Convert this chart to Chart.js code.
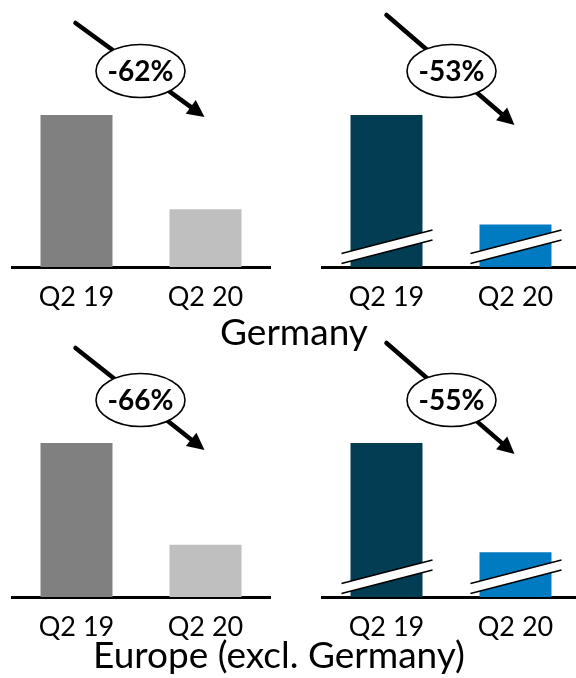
<!DOCTYPE html>
<html>
<head>
<meta charset="utf-8">
<script src="https://cdn.jsdelivr.net/npm/chart.js@4/dist/chart.umd.min.js"></script>
<style>
  html, body { margin:0; padding:0; background:#fff; width:576px; height:678px; overflow:hidden; position:relative; }
  .cw { position:absolute; }
  .title { position:absolute; font-family: Lato, "Open Sans", sans-serif; font-size:37px; line-height:44.4px; color:#000; white-space:nowrap; transform:translateX(-50%); }
</style>
</head>
<body>
<div class="cw" style="left:0;top:0;width:288px;height:330px"><canvas id="c1"></canvas></div>
<div class="cw" style="left:300px;top:0;width:290px;height:330px"><canvas id="c2"></canvas></div>
<div class="cw" style="left:0;top:330px;width:288px;height:330px"><canvas id="c3"></canvas></div>
<div class="cw" style="left:300px;top:330px;width:290px;height:330px"><canvas id="c4"></canvas></div>
<div class="title" id="t1" style="left:294px;top:309px"></div>
<div class="title" id="t2" style="left:279px;top:632px"></div>
<script>
// ---- data ----
const categories = ['Q2 19', 'Q2 20'];
// bar heights (Q2 19 = 100); right-hand panels use a broken axis
const germanyLeft  = [100, 38];
const germanyRight = [100, 28];
const europeLeft   = [100, 34];
const europeRight  = [100, 29];
const germanyChanges = ['-62%', '-53%'];
const europeChanges  = ['-66%', '-55%'];
const regionTitles = ['Germany', 'Europe (excl. Germany)'];

document.getElementById('t1').textContent = regionTitles[0];
document.getElementById('t2').textContent = regionTitles[1];

const FONT = 'Lato, "Open Sans", sans-serif';

const annot = {
  id: 'annot',
  afterDatasetsDraw(chart, args, o) {
    if (!o.broken) return;
    const ctx = chart.ctx;
    const meta = chart.getDatasetMeta(0);
    meta.data.forEach(b => {
      const base = b.base;
      const x0 = b.x - 45, x1 = b.x + 46;
      ctx.save();
      ctx.beginPath();
      ctx.moveTo(x0, base - 3.5);
      ctx.lineTo(x1, base - 27);
      ctx.lineTo(x1, base - 37);
      ctx.lineTo(x0, base - 13.5);
      ctx.closePath();
      ctx.fillStyle = '#fff';
      ctx.fill();
      ctx.strokeStyle = '#000';
      ctx.lineWidth = 1.6;
      ctx.beginPath();
      ctx.moveTo(x0, base - 3.5); ctx.lineTo(x1, base - 27);
      ctx.moveTo(x0, base - 13.5); ctx.lineTo(x1, base - 37);
      ctx.stroke();
      ctx.restore();
    });
  },
  afterDraw(chart, args, o) {
    const ctx = chart.ctx;
    const meta = chart.getDatasetMeta(0);
    const b0 = meta.data[0], b1 = meta.data[1];
    const top = chart.chartArea.top;
    const sx = b0.x + o.sdx, sy = top + o.sdy;
    const ex = b1.x + o.edx, ey = top + o.edy;
    const ang = Math.atan2(ey - sy, ex - sx);
    const c = Math.cos(ang), s = Math.sin(ang);
    const hl = 17, hw = 8.5;
    const bx = ex - hl * c, by = ey - hl * s;
    ctx.save();
    ctx.strokeStyle = '#000';
    ctx.fillStyle = '#000';
    ctx.lineWidth = 4.5;
    ctx.lineCap = 'round';
    ctx.beginPath();
    ctx.moveTo(sx, sy);
    ctx.lineTo(bx + 2 * c, by + 2 * s);
    ctx.stroke();
    ctx.beginPath();
    ctx.moveTo(ex, ey);
    ctx.lineTo(bx + hw * s, by - hw * c);
    ctx.lineTo(bx - hw * s, by + hw * c);
    ctx.closePath();
    ctx.fill();
    const cx = (b0.x + b1.x) / 2 + o.cdx, cy = top + o.cdy;
    ctx.beginPath();
    ctx.ellipse(cx, cy, 44.5, 26.5, 0, 0, Math.PI * 2);
    ctx.fillStyle = '#fff';
    ctx.fill();
    ctx.lineWidth = 1.6;
    ctx.stroke();
    ctx.fillStyle = '#000';
    ctx.font = 'bold 28px ' + FONT;
    ctx.textAlign = 'center';
    ctx.textBaseline = 'middle';
    ctx.fillText(o.label, cx, cy + 1);
    ctx.restore();
  }
};

function makeChart(id, values, colors, label, broken, padL, padR, padTop, arrow) {
  return new Chart(document.getElementById(id), {
    type: 'bar',
    data: {
      labels: categories,
      datasets: [{ data: values, backgroundColor: colors, borderWidth: 0,
                   categoryPercentage: 1.0, barPercentage: 0.558 }]
    },
    options: {
      responsive: true,
      maintainAspectRatio: false,
      animation: false,
      layout: { padding: { left: padL, right: padR, top: padTop, bottom: 0 } },
      plugins: {
        legend: { display: false },
        tooltip: { enabled: false },
        annot: Object.assign({ label: label, broken: broken }, arrow)
      },
      scales: {
        x: {
          grid: { display: false, drawTicks: false },
          border: { display: true, color: '#000', width: 3 },
          ticks: { color: '#000', font: { family: FONT, size: 27 }, padding: 14, maxRotation: 0 },
          afterFit: s => { s.height = 63; }
        },
        y: { display: false, min: 0, max: 100 }
      }
    },
    plugins: [annot]
  });
}

const grey = ['#808080', '#bfbfbf'];
const blues = ['#033d54', '#007bc1'];

makeChart('c1', germanyLeft, grey, germanyChanges[0], false, 12, 18, 115,
  { sdx: -1, sdy: -92, edx: -1, edy: 2, cdx: -0.5, cdy: -44 });
makeChart('c2', germanyRight, blues, germanyChanges[1], true, 22, 10, 115,
  { sdx: 0, sdy: -100, edx: -1, edy: 10, cdx: 0.5, cdy: -44 });
makeChart('c3', europeLeft, grey, europeChanges[0], false, 12, 18, 113,
  { sdx: -1, sdy: -95, edx: -1, edy: 7, cdx: -0.5, cdy: -43 });
makeChart('c4', europeRight, blues, europeChanges[1], true, 22, 10, 113,
  { sdx: 0, sdy: -100, edx: -1, edy: 11, cdx: 0.5, cdy: -43 });
</script>
</body>
</html>
